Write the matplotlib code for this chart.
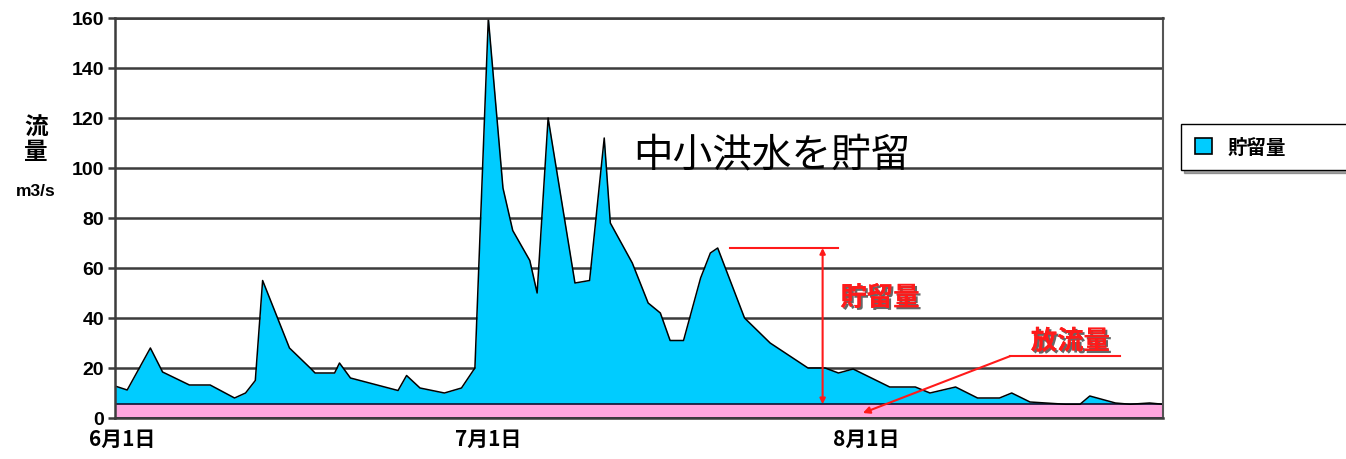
import matplotlib
matplotlib.use("Agg")
import matplotlib.pyplot as plt
import matplotlib.patches as mpatches
import matplotlib.patheffects as pe
import matplotlib.transforms as mtransforms

plt.rcParams['font.family'] = ['Noto Sans CJK JP', 'DejaVu Sans']

# 日数(6月1日起点)と流量 m3/s
days = [0.0, 1.0, 2.9, 3.9, 6.1, 7.8, 9.8, 10.7, 11.5, 12.1, 14.3, 16.0, 16.4, 18.0,
        18.4, 19.3, 23.2, 23.9, 25.0, 27.0, 28.4, 29.5, 30.6, 31.8, 32.6, 34.0, 34.6,
        35.5, 37.7, 38.9, 40.1, 40.6, 42.4, 43.7, 44.7, 45.5, 46.6, 48.0, 48.8, 49.4,
        51.6, 53.7, 56.8, 58.2, 59.3, 60.5, 63.5, 65.6, 66.8, 68.9, 70.7, 72.5, 73.5,
        75.0, 77.9, 79.1, 79.9, 82.0, 83.2, 84.8, 85.9]
flow = [12.8, 11.2, 28, 18.4, 13.2, 13.2, 8, 10, 15, 55, 28, 20, 18, 18,
        22, 16, 11, 17, 12, 10, 12, 20, 160, 92, 75, 63, 50,
        120, 54, 55, 112, 78, 62, 46, 42, 31, 31, 56, 66, 68,
        40, 30, 20, 20, 18, 19.6, 12.4, 12.4, 10, 12.4, 8, 8, 10,
        6.4, 5.5, 5.5, 8.8, 6, 5.5, 6, 5.5]
release = 5.5

tick_days = [0, 30, 61]
tick_labels = ["6月1日", "7月1日", "8月1日"]

blue = "#00CCFF"
pink = "#FFA6DF"
grid_c = "#3c3c3c"

fig = plt.figure(figsize=(13.46, 4.6), dpi=100)
ax = fig.add_axes([115 / 1346, 41 / 460, 1048 / 1346, 400 / 460])

ax.fill_between(days, release, flow, color=blue, lw=0)
ax.plot(days, flow, color="black", lw=1.1)
ax.fill_between([0, 85.9], 0, release, facecolor=pink, edgecolor="#101030", lw=1.2)

ax.set_xlim(0, 85.9)
ax.set_ylim(0, 160)
ax.set_yticks(range(0, 161, 20))
ax.set_xticks(tick_days)
ax.set_xticklabels(tick_labels, fontsize=15, fontweight="bold")
ax.tick_params(axis="x", length=0, pad=7)
# 日付ラベルを少し右へ
shift = mtransforms.ScaledTranslation(7 / 100, 0, fig.dpi_scale_trans)
for lbl in ax.get_xticklabels():
    lbl.set_transform(lbl.get_transform() + shift)
ax.tick_params(axis="y", length=5, width=1.8, color=grid_c, pad=3, labelsize=14)
for lbl in ax.get_yticklabels():
    lbl.set_fontweight("bold")
    lbl.set_family(["Liberation Sans", "DejaVu Sans"])

ax.yaxis.grid(True, color=grid_c, lw=1.8)
ax.set_axisbelow(True)
for s in ["left", "bottom", "top"]:
    ax.spines[s].set_color(grid_c)
    ax.spines[s].set_linewidth(1.8)
ax.spines["right"].set_color("#555555")
ax.spines["right"].set_linewidth(1.5)

# 見出し
ax.text(42.5, 101, "中小洪水を貯留", fontsize=28.5, va="baseline", ha="left")

# 貯留量の寸法線
red = "#FF1A1A"
shadow = [pe.withSimplePatchShadow(offset=(1.5, -1.5), shadow_rgbFace="black", alpha=0.6), pe.Normal()]
ax.plot([50.4, 59.3], [68, 68], color=red, lw=1.5)
ax.annotate("", xy=(58.0, release), xytext=(58.0, 68),
            arrowprops=dict(arrowstyle="<|-|>", color=red, lw=1.5, mutation_scale=8,
                            shrinkA=0, shrinkB=0))
ax.text(62.7, 48, "貯留量", color=red, fontsize=19, fontweight="bold",
        ha="center", va="center", path_effects=shadow)

# 放流量の引出線
ax.plot([73.4, 82.4], [24.8, 24.8], color=red, lw=1.5)
ax.annotate("", xy=(61.3, 2.0), xytext=(73.4, 24.8),
            arrowprops=dict(arrowstyle="-|>", color=red, lw=1.5, mutation_scale=10,
                            shrinkA=0, shrinkB=0))
ax.text(78.3, 30.5, "放流量", color=red, fontsize=19, fontweight="bold",
        ha="center", va="center", path_effects=shadow)

# 縦軸ラベル
fig.text(36 / 1346, 1 - 140 / 460, "流\n量", fontsize=17, fontweight="bold",
         ha="center", va="center", linespacing=1.0)
fig.text(36 / 1346, 1 - 192 / 460, "m3/s", fontsize=12.5, fontweight="bold",
         ha="center", va="center", family=["Liberation Sans", "DejaVu Sans"])

handle = mpatches.Patch(facecolor=blue, edgecolor="black", lw=1.2, label="貯留量")
fig.legend(handles=[handle], loc="upper left",
           bbox_to_anchor=(1181 / 1346, 0.5, 0.2, 1 - 125 / 460 - 0.5),
           mode="expand", borderaxespad=0, fancybox=False, shadow=True,
           edgecolor="black", framealpha=1, handlelength=0.9, handleheight=0.9,
           borderpad=0.7, prop={"weight": "bold", "size": 14})

fig.savefig("out.png", dpi=100)
